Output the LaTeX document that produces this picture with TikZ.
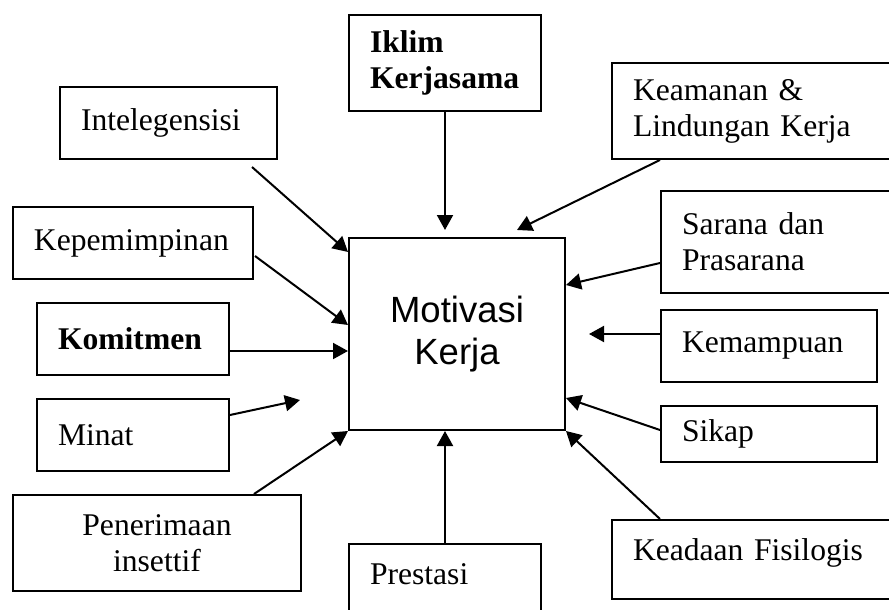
\documentclass[tikz,border=0pt]{standalone}
\usepackage{fontspec}
\setmainfont{Liberation Serif}
\setsansfont{Liberation Sans}
\usetikzlibrary{arrows.meta,calc}

\hyphenpenalty=10000
\exhyphenpenalty=10000
\newcommand\factorfont{\fontsize{31.6}{36}\selectfont}

\begin{document}
\begin{tikzpicture}[x=1pt,y=-1pt,
  factor/.style={draw, line width=2pt, align=left, inner xsep=21pt, font=\factorfont},
  flow/.style={-{Triangle[length=15pt,width=16pt]}, line width=2pt}]

\useasboundingbox (0,0) rectangle (889,610);

% Central box
\node[draw, line width=2pt, minimum width=216pt, minimum height=192pt, align=center,
      font=\sffamily\fontsize{36.5}{42}\selectfont] (motivasi) at (457,334) {Motivasi\\Kerja};

% Factors on the left
\node[factor, text width=175pt, minimum height=72pt] (intelegensi) at (168.5,123) {Intelegensisi};
\node[factor, text width=198pt, minimum height=72pt] (kepemimpinan) at (133,243) {Kepemimpinan};
\node[factor, text width=150pt, minimum height=72pt, font=\factorfont\bfseries] (komitmen) at (133,339) {Komitmen};
\node[factor, text width=150pt, minimum height=72pt] (minat) at (133,435) {Minat};
\node[factor, text width=246pt, minimum height=96pt, align=center] (penerimaan) at (157,543) {Penerimaan\\insettif};

% Factors above and below
\node[factor, text width=150pt, minimum height=96pt, font=\factorfont\bfseries] (iklim) at (445,63) {Iklim\\Kerjasama};
\node[factor, text width=150pt, anchor=north, inner ysep=0pt, text height=40pt, text depth=60pt] (prestasi) at (445,543) {Prestasi};

% Factors on the right
\node[factor, text width=238pt, minimum height=96pt] (keamanan) at (752,111) {Keamanan \&\\Lindungan Kerja};
\node[factor, text width=189pt, minimum height=102pt] (sarana) at (776.5,242) {Sarana dan\\Prasarana};
\node[factor, text width=174pt, minimum height=72pt] (kemampuan) at (769,346) {Kemampuan};
\node[factor, text width=174pt, minimum height=56pt] (sikap) at (769,434) {Sikap};
\node[factor, text width=238pt, anchor=north, inner ysep=0pt, text height=40pt, text depth=39pt] (keadaan) at (752,519) {Keadaan Fisilogis};

% Free arrow ends
\coordinate (iklimtip) at (445,230);
\coordinate (keamanantip) at (517,230);
\coordinate (kemampuantip) at (589,334);
\coordinate (minattip) at (300,400);

% Arrows
\draw[flow] ($(intelegensi.south)+(83.5,7)$) -- ($(motivasi.north west)+(0,15)$);
\draw[flow] ($(kepemimpinan.east)+(1,13)$) -- ($(motivasi.west)+(0,-9)$);
\draw[flow] ($(komitmen.east)+(0,12)$) -- ($(motivasi.west)+(0,17)$);
\draw[flow] ($(minat.east)+(0,-20)$) -- (minattip);
\draw[flow] ($(penerimaan.north)+(97,0)$) -- (motivasi.south west);
\draw[flow] (prestasi.north) -- (prestasi.north |- motivasi.south);
\draw[flow] (iklim.south) -- (iklimtip);
\draw[flow] ($(keamanan.south)+(-92,0)$) -- (keamanantip);
\draw[flow] ($(sarana.west)+(0,21)$) -- ($(motivasi.east)+(0,-49)$);
\draw[flow] ($(kemampuan.west)+(0,-12)$) -- (kemampuantip);
\draw[flow] ($(sikap.west)+(0,-4)$) -- ($(motivasi.east)+(0,64)$);
\draw[flow] ($(keadaan.north)+(-92,0)$) -- (motivasi.south east);

\end{tikzpicture}
\end{document}
